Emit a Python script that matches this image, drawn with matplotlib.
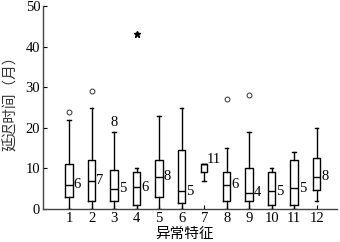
import matplotlib
matplotlib.use('Agg')
import matplotlib.pyplot as plt
import numpy as np

plt.rcParams['font.family'] = ['Liberation Serif', 'Noto Sans CJK SC']

# box statistics (months)
groups = [1, 2, 3, 4, 5, 6, 7, 8, 9, 10, 11, 12]
q1 = [3, 2, 2, 1, 3, 1.4, 9, 2, 2, 1, 1, 4.6]
med = [6, 7, 5, 5.4, 8, 4.4, 11, 6, 4, 4.4, 5.1, 8]
q3 = [11, 12, 9.5, 9, 12, 14.5, 11, 9, 10, 9, 12, 12.6]
whislo = [0, 0, 0, 0, 0, 0, 7, 0, 0, 0, 0, 2]
whishi = [22, 25, 19, 10, 23, 25, 11, 15, 19, 10, 14, 20]
fliers = [[24], [29], [], [], [], [], [], [27], [28], [], [], []]
med_labels = ['6', '7', '5', '6', '8', '5', '11', '6', '4', '5', '5', '8']
label_y = [6, 7, 5, 5.4, 8, 4.4, 12.3, 6, 4, 4.4, 5.1, 8]
# extreme values marked with text / star
text_out_x, text_out_y, text_out_s = 3, 21.3, '8'
star_x, star_y = 4, 43

stats = []
for i in range(len(groups)):
    stats.append({'q1': q1[i], 'med': med[i], 'q3': q3[i],
                  'whislo': whislo[i], 'whishi': whishi[i],
                  'fliers': fliers[i]})

fig = plt.figure(figsize=(3.4, 2.42), dpi=100)
ax = fig.add_axes([0.1265, 0.1364, 0.8645, 0.8386])

widths = [0.24 if g == 7 else 0.33 for g in groups]
lp = dict(color='black', linewidth=1.0)
ax.bxp(stats, positions=groups, widths=widths,
       boxprops=lp, whiskerprops=lp, capprops=lp,
       medianprops=dict(color='black', linewidth=1.0),
       flierprops=dict(marker='o', markersize=3.5, markerfacecolor='none',
                       markeredgecolor='#333333', markeredgewidth=0.7),
       capwidths=0.15)

for g, s, y in zip(groups, med_labels, label_y):
    dx = 0.1 if g == 7 else 0.2
    ax.text(g + dx, y, s, ha='left', va='center', fontsize=10.5)

ax.text(text_out_x, text_out_y, text_out_s, ha='center', va='center', fontsize=10.5)
ax.plot([star_x], [star_y], marker='*', color='black', markersize=5, linestyle='none')

ax.set_xlim(-0.16, 12.9)
ax.set_ylim(0, 50)
ax.set_xticks(groups)
ax.set_yticks([0, 10, 20, 30, 40, 50])
ax.tick_params(direction='in', length=3, width=0.8, labelsize=10.5, pad=2)
ax.spines['top'].set_visible(False)
ax.spines['right'].set_visible(False)
for sp in ['left', 'bottom']:
    ax.spines[sp].set_color('#444444')
    ax.spines[sp].set_linewidth(1.0)

ax.set_xlabel('异常特征', fontsize=10.5)
ax.set_ylabel('延迟时间（月）', fontsize=10.5, color='#333333')
ax.xaxis.set_label_coords(0.48, -0.092)
ax.yaxis.set_label_coords(-0.085, 0.54)

fig.savefig('out.png', dpi=100)
